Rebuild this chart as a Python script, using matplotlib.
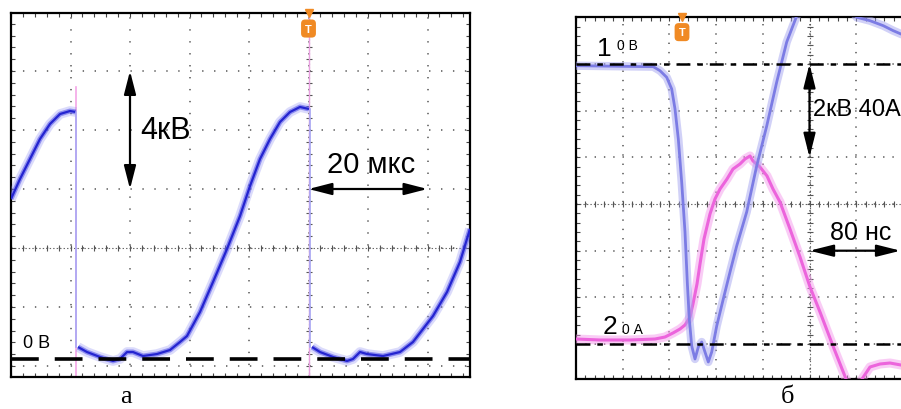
import matplotlib
matplotlib.use('Agg')
import matplotlib.pyplot as plt
import numpy as np

plt.rcParams['lines.scale_dashes'] = False
plt.rcParams['font.family'] = ['Liberation Sans', 'DejaVu Sans']

# ---------------- data (screen divisions) ----------------
# panel a: voltage trace, three visible segments separated by fast drops
a_seg1_x = [0.0, 0.151, 0.319, 0.487, 0.655, 0.824, 0.992, 1.092]
a_seg1_y = [0.831, 1.169, 1.508, 1.847, 2.102, 2.271, 2.322, 2.305]
a_seg2_x = [1.126, 1.277, 1.496, 1.714, 1.832, 1.950, 2.050, 2.218, 2.454, 2.672,
            2.840, 2.958, 3.176, 3.395, 3.630, 3.849, 4.017, 4.185, 4.353, 4.521,
            4.689, 4.857, 5.008]
a_seg2_y = [-1.678, -1.763, -1.847, -1.915, -1.881, -1.763, -1.763, -1.831, -1.797, -1.729,
            -1.593, -1.492, -1.085, -0.576, -0.017, 0.542, 1.051, 1.508, 1.847, 2.136,
            2.305, 2.390, 2.356]
a_seg3_x = [5.059, 5.193, 5.412, 5.647, 5.748, 5.866, 5.983, 6.252, 6.538, 6.756,
            6.924, 7.092, 7.328, 7.546, 7.714]
a_seg3_y = [-1.678, -1.763, -1.847, -1.915, -1.881, -1.763, -1.797, -1.831, -1.763, -1.593,
            -1.373, -1.153, -0.746, -0.237, 0.322]
a_drop_x = [1.095, 5.03]
a_drop_top = [2.305, 2.356]
a_drop_bot = [-1.678, -1.678]
a_zero_level = -1.881
a_trigger_x = 5.0

# panel б: channel 1 (voltage, blue) and channel 2 (current, pink)
b_ch1_x = [0.0, 1.655, 1.799, 1.942, 2.049, 2.120, 2.191, 2.263, 2.334, 2.383,
           2.426, 2.478, 2.548, 2.619, 2.692, 2.762, 2.833, 2.906, 3.013, 3.154,
           3.298, 3.441, 3.655, 3.869, 4.084, 4.298, 4.512, 4.726, 4.90]
b_ch1_y = [2.961, 2.940, 2.854, 2.713, 2.463, 2.034, 1.392, 0.471, -0.600, -1.670,
           -2.463, -3.041, -3.319, -3.062, -2.955, -3.169, -3.383, -3.169, -2.612, -2.034,
           -1.456, -0.899, -0.171, 0.814, 1.670, 2.612, 3.469, 4.026, 4.60]
b_ch1b_x = [5.82, 6.011, 6.296, 6.580, 6.794, 6.959, 7.15]
b_ch1b_y = [4.28, 3.998, 3.925, 3.818, 3.711, 3.640, 3.58]
b_ch2_x = [0.0, 0.514, 1.156, 1.692, 1.906, 2.077, 2.227, 2.334, 2.441, 2.505,
           2.591, 2.655, 2.741, 2.869, 2.976, 3.084, 3.233, 3.362, 3.512, 3.619,
           3.726, 3.790, 3.940, 4.090, 4.218, 4.368, 4.582, 4.797, 5.011, 5.225,
           5.503, 5.782, 5.910, 6.039, 6.124, 6.296, 6.510, 6.724, 6.959, 7.152]
b_ch2_y = [-2.891, -2.912, -2.912, -2.891, -2.848, -2.762, -2.677, -2.591, -2.420, -2.141,
           -1.713, -1.285, -0.749, -0.214, 0.107, 0.321, 0.535, 0.749, 0.857, 0.964,
           1.028, 0.921, 0.792, 0.600, 0.321, 0.043, -0.535, -1.135, -1.777, -2.313,
           -3.041, -3.747, -4.069, -3.961, -3.747, -3.490, -3.426, -3.405, -3.448, -3.469]
b_ref1 = 3.0
b_ref2 = -3.0
b_trigger_x = 2.27

W, H = 901, 410
fig = plt.figure(figsize=(W / 100, H / 100), dpi=100)


def px_axes(l, t, w, h):
    return fig.add_axes([l / W, 1 - (t + h) / H, w / W, h / H])


def scope_frame(ax, xlim, ylim, cx, cy, grid_gap):
    ax.set_xlim(*xlim)
    ax.set_ylim(*ylim)
    ax.set_xticks(np.arange(np.ceil(xlim[0]), xlim[1] + 0.001, 1.0))
    ax.set_yticks(np.arange(np.ceil(ylim[0]), ylim[1] + 0.001, 1.0))
    ax.set_xticks(np.arange(0, xlim[1] + 0.001, 0.2), minor=True)
    ax.set_yticks(np.arange(np.ceil(ylim[0]), ylim[1] + 0.001, 0.2), minor=True)
    ax.tick_params(which='both', direction='in', top=True, right=True,
                   labelbottom=False, labelleft=False, length=3, width=0.8, color='#444')
    ax.grid(True, which='major', color='#555555', linewidth=1.1,
            linestyle=(0, (1.0, grid_gap)))
    for s in ax.spines.values():
        s.set_linewidth(1.6)
        s.set_color('black')
    # dense centre lines
    ax.axhline(cy, color='#666666', lw=0.8, ls=(0, (1, 1.5)), zorder=1)
    ax.axvline(cx, color='#666666', lw=0.8, ls=(0, (1, 1.5)), zorder=1)
    xs = np.arange(0, xlim[1], 0.2)
    ax.plot(xs, np.full_like(xs, cy), ls='none', marker='|', ms=5, mew=0.8,
            color='#555555', zorder=1)
    ys = np.arange(np.ceil(ylim[0]), ylim[1], 0.2)
    ax.plot(np.full_like(ys, cx), ys, ls='none', marker='_', ms=5, mew=0.8,
            color='#555555', zorder=1)


def trigger(ax, x, y, ytop):
    ax.plot([x], [ytop], marker='v', ms=6, color='#f08a24', clip_on=False, zorder=6)
    ax.text(x, y, 'T', ha='center', va='center', color='white', fontsize=8,
            fontweight='bold', zorder=7,
            bbox=dict(boxstyle='round,pad=0.3', fc='#f08a24', ec='#f08a24'))


def darrow(ax, p1, p2, ms=20, hl=0.7, hw=0.18):
    ax.annotate('', xy=p2, xytext=p1, zorder=8,
                arrowprops=dict(arrowstyle='<|-|>,head_length=%g,head_width=%g' % (hl, hw),
                                color='black', lw=1.6, mutation_scale=ms,
                                shrinkA=0, shrinkB=0))


# ---------------- panel a ----------------
axa = px_axes(11, 14, 459, 364)
a_xlim = (0, 459 / 59.5)
a_ylim = ((249 - 378) / 59.0, (249 - 14) / 59.0)
scope_frame(axa, a_xlim, a_ylim, 5.0, 0.0, 7.6)

# pink vertical markers
axa.plot([a_drop_x[0], a_drop_x[0]], [2.73, a_ylim[0]], color='#f4a6e6', lw=1.2, zorder=2)
axa.plot([a_trigger_x + 0.01, a_trigger_x + 0.01], [a_ylim[0], a_ylim[1]], color='#e9a0e0',
         lw=1.0, zorder=2)

for sx, sy in [(a_seg1_x, a_seg1_y), (a_seg2_x, a_seg2_y), (a_seg3_x, a_seg3_y)]:
    axa.plot(sx, sy, color='#8a8af4', lw=7.0, alpha=0.3, solid_capstyle='butt', zorder=3)
    axa.plot(sx, sy, color='#5050e8', lw=3.6, alpha=0.55, solid_capstyle='butt', zorder=3)
    axa.plot(sx, sy, color='#2424d0', lw=1.6, solid_capstyle='butt', zorder=3)
for x, t, b in zip(a_drop_x, a_drop_top, a_drop_bot):
    axa.plot([x, x], [t, b], color='#a8a8f4', lw=1.2, zorder=3)

axa.axhline(a_zero_level, color='black', lw=2.6, ls=(0, (20, 11.5)), zorder=5)

darrow(axa, (2.0, 3.0), (2.0, 1.0))
axa.text(2.17, 2.0, '4кВ', fontsize=22, ha='left', va='center', zorder=8)
darrow(axa, (5.0, 1.0), (7.0, 1.0))
axa.text(5.31, 1.42, '20 мкс', fontsize=21, ha='left', va='center', zorder=8)
axa.text(0.2, -1.6, '0 В', fontsize=13, ha='left', va='center', zorder=8)
trigger(axa, a_trigger_x, 3.72, a_ylim[1])

# ---------------- panel б ----------------
axb = px_axes(576, 18, 467, 362)
b_xlim = (0, 10)
b_ylim = ((205 - 380) / 46.7, (205 - 18) / 46.7)
scope_frame(axb, b_xlim, b_ylim, 5.0, 0.0, 5.7)

axb.plot(b_ch2_x, b_ch2_y, color='#f59aec', lw=6.5, alpha=0.5, zorder=3)
axb.plot(b_ch2_x, b_ch2_y, color='#ec64dc', lw=2.2, zorder=3)
for sx, sy in [(b_ch1_x, b_ch1_y), (b_ch1b_x, b_ch1b_y)]:
    axb.plot(sx, sy, color='#a4a4f0', lw=6.0, alpha=0.5, zorder=4)
    axb.plot(sx, sy, color='#7c7ce4', lw=2.0, zorder=4)

dash_b = (0, (10, 5, 4, 5))
axb.axhline(b_ref1, color='black', lw=1.8, ls=dash_b, zorder=5)
axb.axhline(b_ref2, color='black', lw=1.8, ls=dash_b, zorder=5)

axb.text(0.45, 3.34, '1', fontsize=19, ha='left', va='center', zorder=8)
axb.text(0.88, 3.40, '0 В', fontsize=10, ha='left', va='center', zorder=8)
axb.text(0.56, -2.61, '2', fontsize=19, ha='left', va='center', zorder=8)
axb.text(0.99, -2.68, '0 А', fontsize=10, ha='left', va='center', zorder=8)

darrow(axb, (5.0, 3.0), (5.0, 1.0), ms=18, hl=0.8, hw=0.2)
axb.text(5.07, 2.03, '2кВ 40А', fontsize=17, ha='left', va='center', zorder=8)
darrow(axb, (5.0, -1.0), (6.95, -1.0), ms=18, hl=0.8, hw=0.2)
axb.text(5.44, -0.59, '80 нс', fontsize=18, ha='left', va='center', zorder=8)
trigger(axb, b_trigger_x, 3.68, b_ylim[1])

# ---------------- captions ----------------
fig.text(126 / W, 1 - 397 / H, 'а', fontsize=19, family=['Liberation Serif', 'DejaVu Serif'],
         ha='center', va='center')
fig.text(787 / W, 1 - 397 / H, 'б', fontsize=19, family=['Liberation Serif', 'DejaVu Serif'],
         ha='center', va='center')

fig.savefig('out.png', dpi=100)
